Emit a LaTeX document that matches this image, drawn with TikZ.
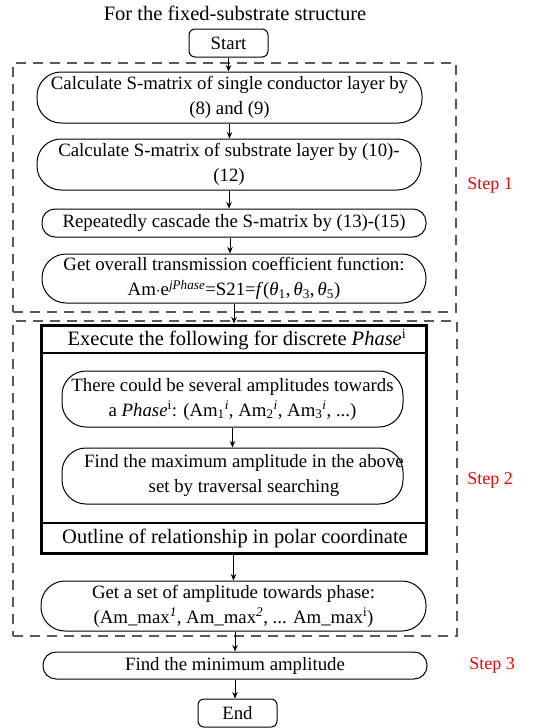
\documentclass[tikz,border=0pt]{standalone}
\usepackage{fontspec}
\setmainfont{Liberation Serif}
\usetikzlibrary{arrows.meta,calc}
\begin{document}
\begin{tikzpicture}[x=1pt,y=-1pt,
 every node/.style={font=\fontsize{18.8}{25}\selectfont},
 bigtxt/.style={font=\fontsize{20.5}{25}\selectfont},
 pill/.style={draw,line width=1pt,rounded corners=24pt,align=center,inner sep=0pt},
 slim/.style={draw,line width=1pt,rounded corners=13pt,align=center,inner sep=0pt},
 term/.style={draw,line width=1pt,rounded corners=6pt,align=center,inner sep=0pt},
 arr/.style={-{Stealth[length=6.5pt,width=5.5pt]},line width=1pt},
 dbox/.style={draw=black!65,dash pattern=on 10pt off 7pt,line width=1.2pt,inner sep=0pt},
 steplbl/.style={text=red,font=\fontsize{18}{22}\selectfont}]
\useasboundingbox (0,0) rectangle (549,728);

% title
\node[bigtxt] (title) at (235,13) {For the fixed-substrate structure};

% dashed frames
\node[dbox,minimum width=443pt,minimum height=249pt] (s1) at (234.5,187.5) {};
\node[dbox,minimum width=444pt,minimum height=315pt] (s2) at (235,478.5) {};

% step 1
\node[term,minimum width=79pt,minimum height=28pt] (start) at (228.5,43) {Start};
\node[pill,minimum width=385pt,minimum height=51pt] (b1) at (229.5,97.5)
  {Calculate S-matrix of single conductor layer by\\(8) and (9)};
\node[pill,minimum width=384pt,minimum height=51pt] (b2) at (229,164.5)
  {Calculate S-matrix of substrate layer by (10)-\\(12)};
\node[slim,minimum width=384pt,minimum height=28pt] (b3) at (234,223)
  {Repeatedly cascade the S-matrix by (13)-(15)};
\node[pill,minimum width=384pt,minimum height=49pt] (b4) at (234,278.5)
  {Get overall transmission coefficient function:\\
   Am$\cdot$e\textsuperscript{\textit{jPhase}}=S21=\textit{f}(\textit{θ}\textsubscript{1},\,\textit{θ}\textsubscript{3},\,\textit{θ}\textsubscript{5})};

% step 2
\node[draw,line width=3pt,minimum width=385pt,minimum height=228pt,inner sep=0pt] (loop) at (233.5,439) {};
\draw[line width=2pt] (41,353) coordinate (h1) -- (426,353) coordinate (h2);
\draw[line width=2pt] (41,523) coordinate (f1) -- (426,523) coordinate (f2);
\node[bigtxt] (head) at (237,339.5) {Execute the following for discrete \textit{Phase}\textsuperscript{i}};
\node[bigtxt] (foot) at (235,538) {Outline of relationship in polar coordinate};
\node[pill,minimum width=341pt,minimum height=56pt] (ia) at (232.5,399)
  {There could be several amplitudes towards\\
   a \textit{Phase}\textsuperscript{i}: (Am\textsubscript{1}\textsuperscript{\textit{i}}, Am\textsubscript{2}\textsuperscript{\textit{i}}, Am\textsubscript{3}\textsuperscript{\textit{i}}, ...)};
\node[pill,minimum width=341pt,minimum height=56pt] (ib) at (232.5,476) {};
\node[align=center,inner sep=0pt] (ibt) at (244,476)
  {Find the maximum amplitude in the above\\set by traversal searching};
\node[pill,minimum width=385pt,minimum height=50pt] (gs) at (233.5,606)
  {Get a set of amplitude towards phase:\\
   (Am\_max\textsuperscript{\textit{1}}, Am\_max\textsuperscript{\textit{2}}, ... Am\_max\textsuperscript{i})};

% step 3
\node[slim,minimum width=384pt,minimum height=27pt] (fm) at (235,665.5) {Find the minimum amplitude};
\node[term,minimum width=79pt,minimum height=28pt] (end) at (237.5,713) {End};

% step labels
\node[steplbl] (l1) at (490,185) {Step 1};
\node[steplbl] (l2) at (490,480) {Step 2};
\node[steplbl] (l3) at (492,665) {Step 3};

% connectors
\draw[arr] (start.south) -- (start.south |- b1.north);
\draw[arr] (b1.south) -- (b1.south |- b2.north);
\draw[arr] (b2.south) -- (b2.south |- b3.north);
\draw[arr] ([xshift=-4pt]b3.south) -- ([xshift=-4pt]b3.south |- b4.north);
\draw[arr] (b4.south) -- (b4.south |- loop.north);
\draw[arr] (ia.south) -- (ia.south |- ib.north);
\draw[arr] (loop.south) -- (loop.south |- gs.north);
\draw[arr] ([xshift=1.5pt]gs.south) -- ([xshift=1.5pt]gs.south |- fm.north);
\draw[arr] (fm.south) -- (fm.south |- end.north);
\end{tikzpicture}
\end{document}
